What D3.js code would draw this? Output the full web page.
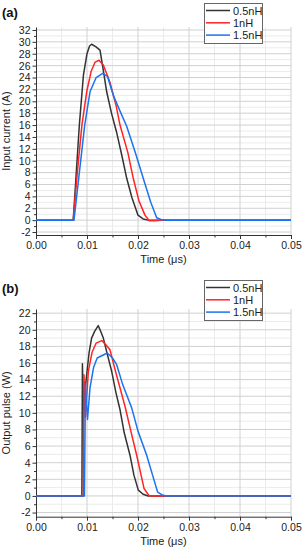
<!DOCTYPE html>
<html>
<head>
<meta charset="utf-8">
<style>
  body { margin: 0; background: #fff; }
  svg { display: block; font-family: "Liberation Sans", Arial, sans-serif; }
  .grid-major line { stroke: #d0d0d0; stroke-width: 1px; }
  .grid-minor line { stroke: #ebebeb; stroke-width: 1px; }
  .axis path, .axis line { stroke: #333; }
  .axis text { font-size: 10.5px; fill: #222; }
  .curve { fill: none; stroke-width: 1.5px; stroke-linejoin: round; }
</style>
</head>
<body>
<script src="https://cdnjs.cloudflare.com/ajax/libs/d3/7.8.5/d3.min.js"></script>
<script>
// series names / colours
const seriesNames = ["0.5nH", "1nH", "1.5nH"];
const seriesColors = ["#333333", "#ff2424", "#1a74ee"];

// x ticks (µs)
const xTicks = [0, 0.01, 0.02, 0.03, 0.04, 0.05];

// (a) input current, A
const tA1 = [0, 0.0073, 0.0079, 0.0085, 0.0093, 0.0100, 0.0105, 0.0109, 0.0117, 0.01255, 0.0132, 0.01386, 0.0148, 0.0158, 0.0168, 0.0178, 0.0188, 0.0200, 0.0210, 0.0220, 0.05];
const iA1 = [0, 0, 8, 16, 24.4, 28, 29.3, 29.6, 29.2, 28.6, 25.2, 21.6, 18, 14.8, 11, 7, 3.8, 0.84, 0.2, 0, 0];
const tA2 = [0, 0.0073, 0.0081, 0.0090, 0.00994, 0.0108, 0.0116, 0.01235, 0.0132, 0.0145, 0.0157, 0.01647, 0.0180, 0.01908, 0.0202, 0.02137, 0.0222, 0.0232, 0.0245, 0.05];
const iA2 = [0, 0, 8, 16, 21.6, 25, 26.6, 26.9, 26.1, 23.2, 19.3, 16, 11.4, 7, 3.2, 0.84, -0.1, -0.1, 0, 0];
const tA3 = [0, 0.00745, 0.0085, 0.00955, 0.01059, 0.0118, 0.01307, 0.0140, 0.01516, 0.0165, 0.01778, 0.0195, 0.02104, 0.0225, 0.02366, 0.0245, 0.0255, 0.05];
const iA3 = [0, 0, 8, 16, 21.6, 24, 24.7, 24.2, 21, 18.3, 15.8, 11.3, 7, 3, 0.4, 0.1, 0, 0];

// (b) output pulse, W
const tB1 = [0, 0.0090, 0.0091, 0.0093, 0.0098, 0.0104, 0.0109, 0.0115, 0.0122, 0.0127, 0.0132, 0.0140, 0.01484, 0.01565, 0.01647, 0.0173, 0.01843, 0.0192, 0.02006, 0.0210, 0.0220, 0.05];
const pB1 = [0, 0, 15.9, 10.5, 13.8, 17.2, 19, 19.8, 20.5, 19.8, 19, 17, 15, 12.5, 10.4, 7.6, 4.9, 2.5, 0.7, 0.2, 0, 0];
const tB2 = [0, 0.0093, 0.0094, 0.0097, 0.01026, 0.0110, 0.0118, 0.01288, 0.0137, 0.0145, 0.0155, 0.01745, 0.01860, 0.01974, 0.02118, 0.0222, 0.05];
const pB2 = [0, 0, 14.6, 9.5, 15, 17.3, 18.4, 18.7, 18.2, 17.6, 15.2, 10.8, 7.8, 4.9, 0.9, 0, 0];
const tB3 = [0, 0.0095, 0.0097, 0.0101, 0.01059, 0.0113, 0.0120, 0.01399, 0.0150, 0.01582, 0.0170, 0.01876, 0.0200, 0.0217, 0.0230, 0.02386, 0.0248, 0.0256, 0.05];
const pB3 = [0, 0, 13.5, 9.2, 13, 15.5, 16.6, 17.2, 16.6, 15.8, 13.4, 10.6, 7.8, 4.9, 2.2, 0.45, 0.1, 0, 0];

const W = 304, H = 550;
const svg = d3.select("body").append("svg").attr("width", W).attr("height", H);

const x = d3.scaleLinear().domain([0, 0.05]).range([36, 291]);

function panel(opts) {
  const y = d3.scaleLinear().domain(opts.yDomain).range([opts.bottom, opts.top]);
  const g = svg.append("g");
  const [y0, y1] = opts.yDomain;

  // minor grid
  const yMinor = d3.range(Math.ceil(y0), y1 + 0.001, 1).filter(v => v % 2 !== 0);
  const xMinor = d3.range(0.005, 0.05, 0.01);
  const gm = g.append("g").attr("class", "grid-minor");
  gm.selectAll(".h").data(yMinor).join("line")
    .attr("x1", x(0)).attr("x2", x(0.05))
    .attr("y1", d => y(d)).attr("y2", d => y(d));
  gm.selectAll(".v").data(xMinor).join("line")
    .attr("x1", d => x(d)).attr("x2", d => x(d))
    .attr("y1", opts.bottom).attr("y2", opts.top);

  // major grid
  const gM = g.append("g").attr("class", "grid-major");
  gM.selectAll(".h").data(opts.yTicks).join("line")
    .attr("x1", x(0)).attr("x2", x(0.05))
    .attr("y1", d => y(d)).attr("y2", d => y(d));
  gM.selectAll(".v").data(xTicks.slice(1)).join("line")
    .attr("x1", d => x(d)).attr("x2", d => x(d))
    .attr("y1", opts.bottom).attr("y2", opts.top);

  // axes: minor ticks first, then major
  g.append("g").attr("class", "axis")
    .attr("transform", `translate(0,${opts.bottom})`)
    .call(d3.axisBottom(x).tickValues(xMinor).tickSize(2.5).tickFormat(""))
    .call(a => a.select(".domain").remove());
  g.append("g").attr("class", "axis")
    .attr("transform", `translate(${x(0)},0)`)
    .call(d3.axisLeft(y).tickValues(yMinor).tickSize(2).tickFormat(""))
    .call(a => a.select(".domain").remove());

  g.append("g").attr("class", "axis")
    .attr("transform", `translate(0,${opts.bottom})`)
    .call(d3.axisBottom(x).tickValues(xTicks).tickSize(4).tickSizeOuter(0).tickPadding(3).tickFormat(d3.format(".2f")))
    .call(a => a.selectAll("text").attr("font-size", "11px"));
  g.append("g").attr("class", "axis")
    .attr("transform", `translate(${x(0)},0)`)
    .call(d3.axisLeft(y).tickValues(opts.yTicks).tickSize(3.5).tickSizeOuter(0).tickPadding(2)
      .tickFormat(d => String(d)))
    .call(a => a.selectAll("text").attr("font-size", "11px"));

  // curves
  const line = d3.line().x(d => x(d[0])).y(d => y(d[1]));
  opts.series.forEach((s, i) => {
    g.append("path").attr("class", "curve")
      .attr("stroke", seriesColors[i])
      .attr("d", line(d3.zip(s[0], s[1])));
  });

  // labels
  g.append("text").attr("x", 2).attr("y", opts.tagY)
    .attr("font-size", "13px").attr("font-weight", "bold").attr("fill", "#111")
    .text(opts.tag);
  g.append("text")
    .attr("transform", `translate(10,${(opts.top + opts.bottom) / 2}) rotate(-90)`)
    .attr("text-anchor", "middle").attr("font-size", "11px").attr("fill", "#222")
    .text(opts.yLabel);
  g.append("text").attr("x", (x(0) + x(0.05)) / 2).attr("y", opts.bottom + 28)
    .attr("text-anchor", "middle").attr("font-size", "11px").attr("fill", "#222")
    .text("Time (μs)");

  // legend
  const lg = g.append("g").attr("transform", `translate(204,${opts.legendTop})`);
  lg.append("rect").attr("x", 0.5).attr("y", 0.5).attr("width", 58).attr("height", 40)
    .attr("fill", "#fff").attr("stroke", "#666");
  seriesNames.forEach((n, i) => {
    const yy = 7.5 + i * 12.3;
    lg.append("line").attr("x1", 2).attr("x2", 26).attr("y1", yy).attr("y2", yy)
      .attr("stroke", seriesColors[i]).attr("stroke-width", 1.5);
    lg.append("text").attr("x", 29).attr("y", yy + 4)
      .attr("font-size", "11px").attr("fill", "#222").text(n);
  });
}

panel({
  tag: "(a)", tagY: 17, top: 27, bottom: 235, yDomain: [-2.5, 32.5],
  yTicks: d3.range(-2, 33, 2), yLabel: "Input current (A)", legendTop: 3,
  series: [[tA1, iA1], [tA2, iA2], [tA3, iA3]]
});
panel({
  tag: "(b)", tagY: 293, top: 309, bottom: 516.7, yDomain: [-2.5, 22.5],
  yTicks: d3.range(-2, 23, 2), yLabel: "Output pulse (W)", legendTop: 280,
  series: [[tB1, pB1], [tB2, pB2], [tB3, pB3]]
});
</script>
</body>
</html>
